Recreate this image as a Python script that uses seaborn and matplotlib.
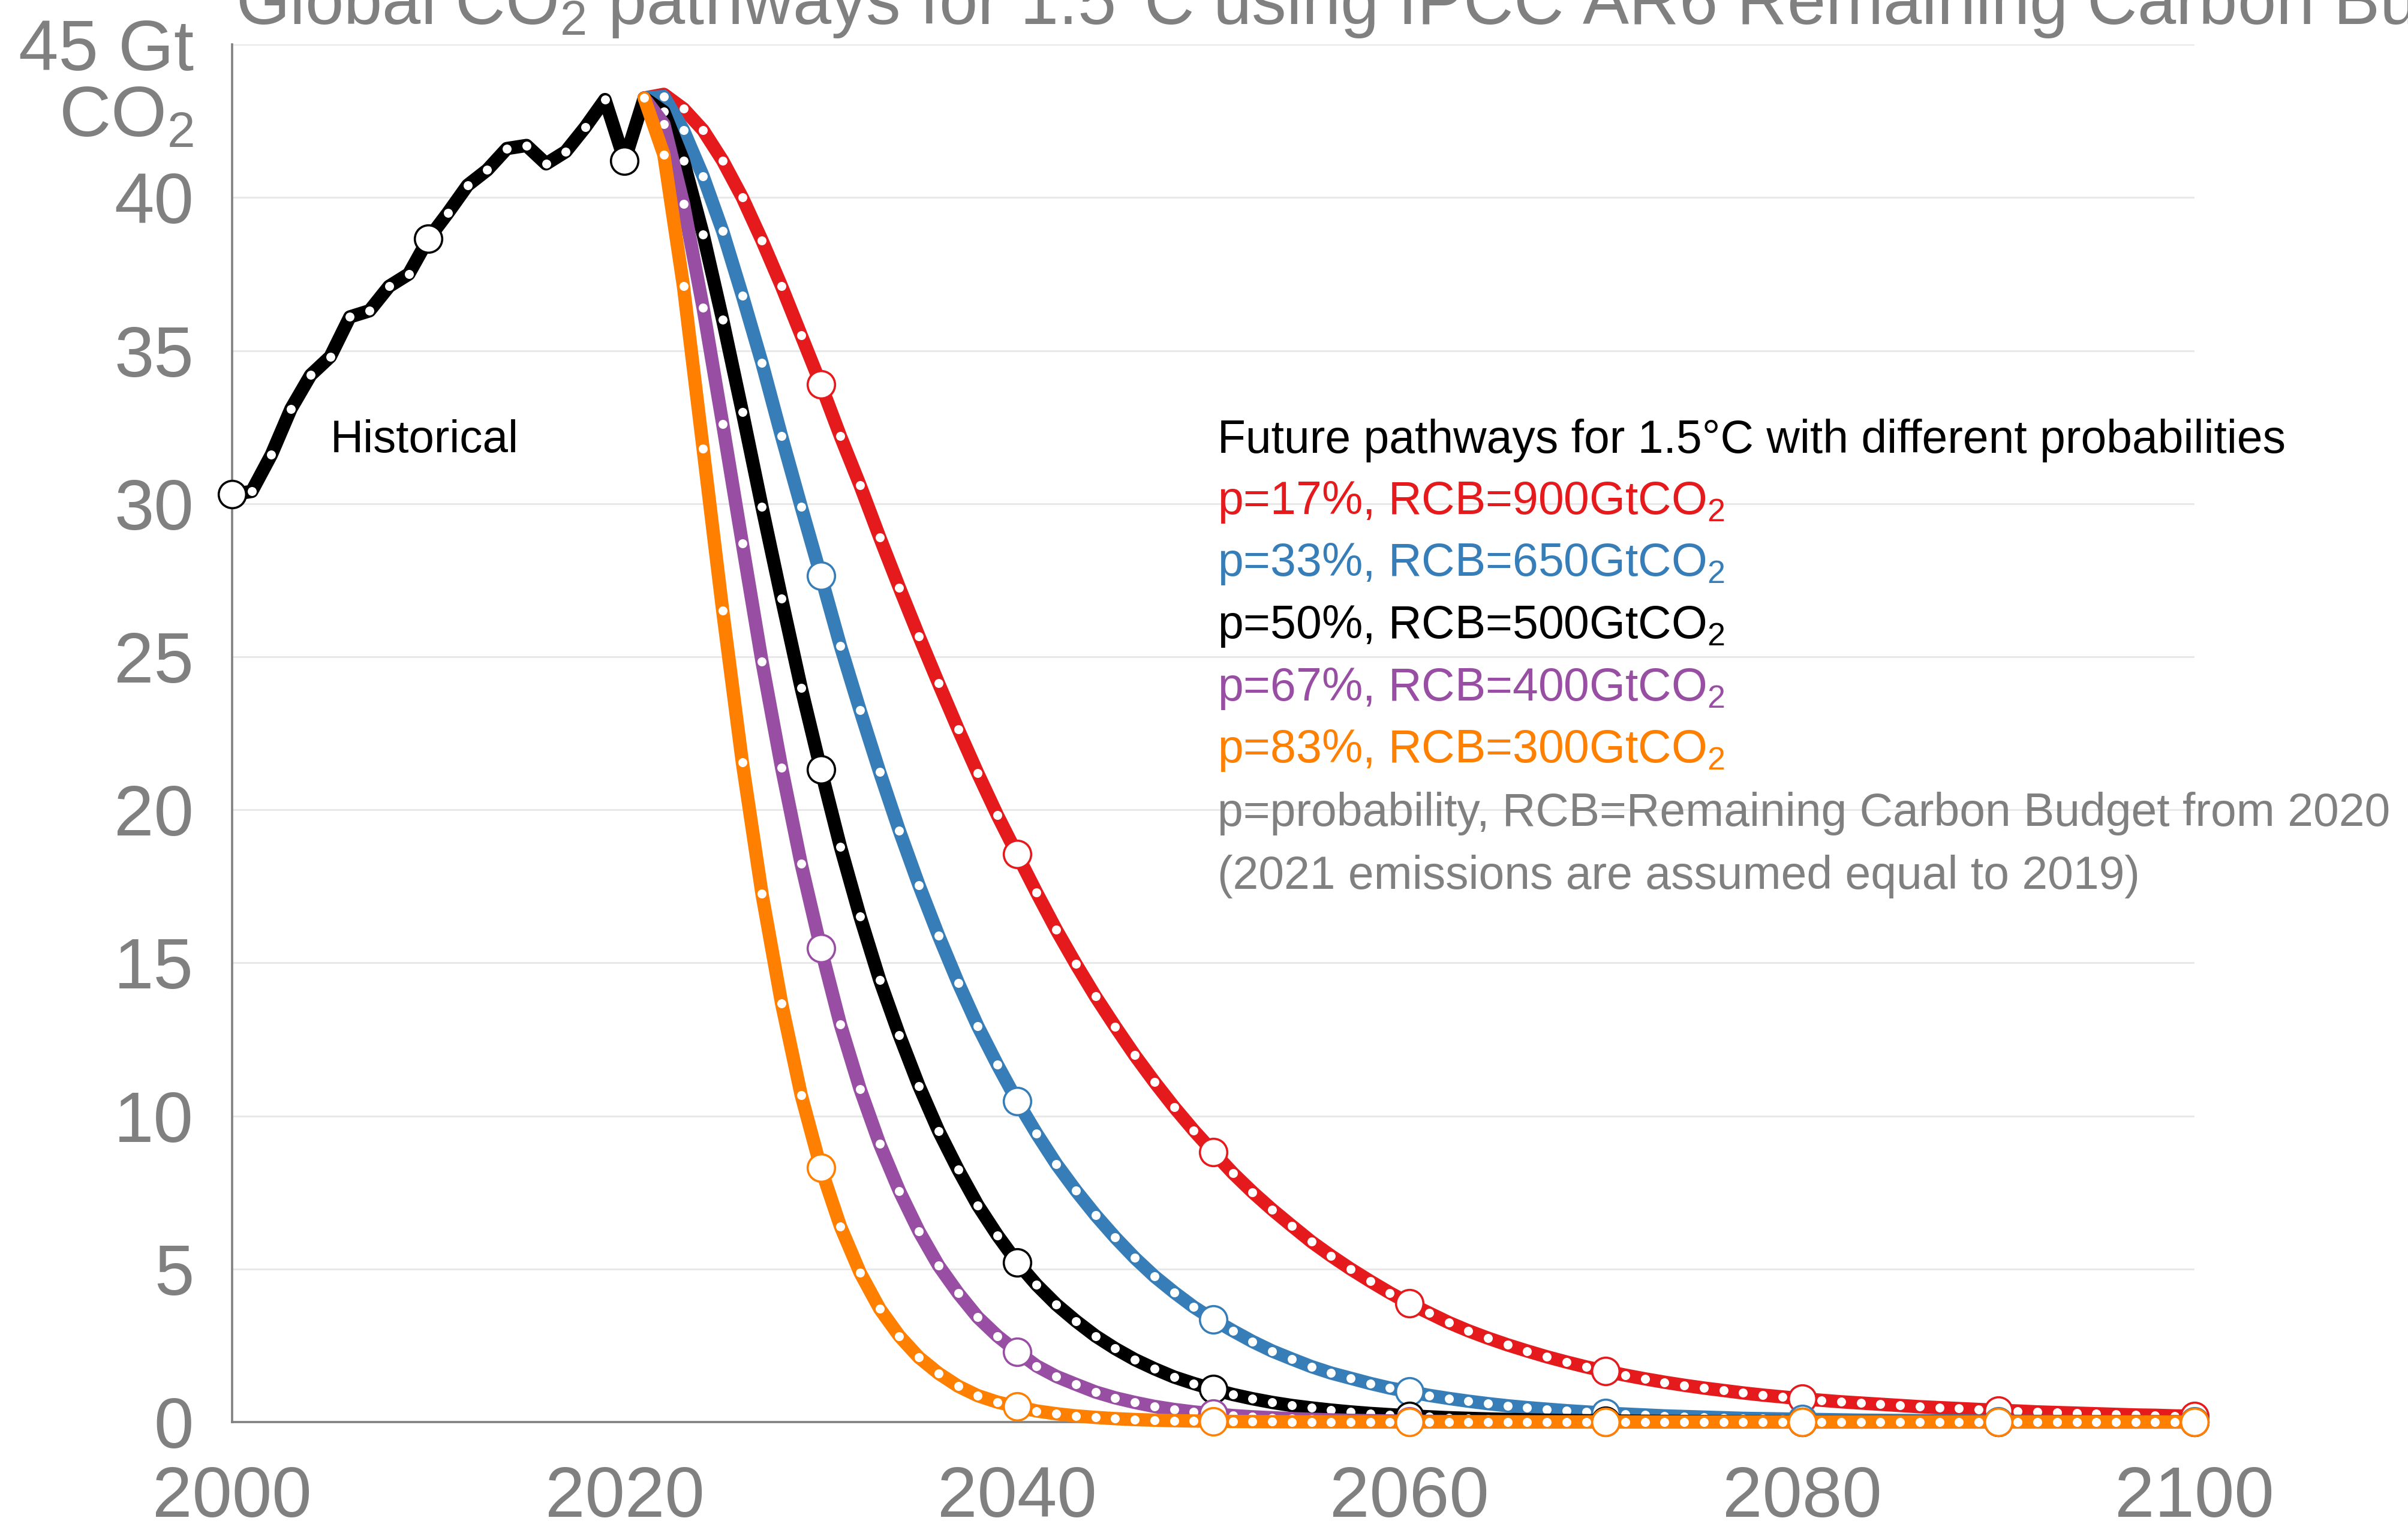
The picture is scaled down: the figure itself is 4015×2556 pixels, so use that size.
import numpy as np
import pandas as pd
import matplotlib
matplotlib.use("Agg")
import matplotlib.pyplot as plt
from matplotlib import transforms
import seaborn as sns

# historical emissions, Gt CO2 (2021 assumed equal to 2019)
hist_years = np.arange(2000, 2022)
hist_co2 = [30.3, 30.4, 31.6, 33.1, 34.2, 34.8, 36.1, 36.3, 37.1, 37.5,
            38.65, 39.5, 40.4, 40.9, 41.6, 41.7, 41.1, 41.5, 42.3, 43.2,
            41.2, 43.25]

# future pathways 2021-2100
path_years = np.arange(2021, 2101)
p17 = [43.25, 43.37, 42.9, 42.2, 41.2, 40.0, 38.6, 37.1, 35.5, 33.9,
       32.2, 30.6, 28.9, 27.26, 25.67, 24.13, 22.63, 21.19, 19.82, 18.55,
       17.29, 16.08, 14.96, 13.9, 12.92, 11.98, 11.11, 10.29, 9.53, 8.82,
       8.13, 7.51, 6.94, 6.41, 5.89, 5.43, 5.0, 4.6, 4.22, 3.87,
       3.56, 3.25, 2.98, 2.74, 2.52, 2.32, 2.13, 1.96, 1.8, 1.66,
       1.53, 1.41, 1.3, 1.2, 1.11, 1.03, 0.95, 0.88, 0.82, 0.76,
       0.71, 0.66, 0.62, 0.58, 0.54, 0.5, 0.47, 0.44, 0.41, 0.38,
       0.36, 0.33, 0.31, 0.29, 0.27, 0.25, 0.23, 0.22, 0.2, 0.19]
p33 = [43.25, 43.3, 42.2, 40.7, 38.9, 36.8, 34.6, 32.2, 29.9, 27.65,
       25.35, 23.25, 21.23, 19.32, 17.54, 15.89, 14.35, 12.93, 11.67, 10.49,
       9.42, 8.43, 7.56, 6.76, 6.03, 5.36, 4.76, 4.24, 3.76, 3.35,
       2.98, 2.63, 2.32, 2.06, 1.81, 1.6, 1.43, 1.26, 1.11, 0.99,
       0.87, 0.77, 0.68, 0.6, 0.53, 0.47, 0.42, 0.37, 0.33, 0.29,
       0.26, 0.23, 0.2, 0.18, 0.16, 0.14, 0.12, 0.11, 0.1, 0.09,
       0.08, 0.07, 0.06, 0.055, 0.05, 0.045, 0.04, 0.035, 0.03, 0.027,
       0.024, 0.021, 0.019, 0.017, 0.015, 0.013, 0.012, 0.011, 0.01, 0.009]
p50 = [43.25, 42.8, 41.2, 38.8, 36.0, 33.0, 29.9, 26.9, 23.98, 21.32,
       18.79, 16.51, 14.44, 12.64, 10.98, 9.51, 8.24, 7.08, 6.1, 5.22,
       4.48, 3.84, 3.3, 2.81, 2.4, 2.04, 1.74, 1.47, 1.26, 1.07,
       0.9, 0.76, 0.64, 0.54, 0.46, 0.39, 0.33, 0.28, 0.24, 0.2,
       0.17, 0.14, 0.12, 0.1, 0.085, 0.07, 0.06, 0.05, 0.043, 0.036,
       0.03, 0.025, 0.021, 0.018, 0.015, 0.012, 0.01, 0.009, 0.007, 0.006,
       0.005, 0.004, 0.004, 0.003, 0.003, 0.002, 0.002, 0.002, 0.001, 0.001,
       0.001, 0.001, 0.001, 0.001, 0.0, 0.0, 0.0, 0.0, 0.0, 0.0]
p67 = [43.25, 42.4, 39.8, 36.4, 32.6, 28.7, 24.85, 21.38, 18.23, 15.48,
       12.98, 10.88, 9.08, 7.55, 6.23, 5.11, 4.21, 3.42, 2.81, 2.3,
       1.83, 1.49, 1.23, 0.98, 0.79, 0.64, 0.51, 0.41, 0.33, 0.27,
       0.21, 0.17, 0.14, 0.11, 0.09, 0.07, 0.055, 0.045, 0.035, 0.028,
       0.022, 0.018, 0.014, 0.011, 0.009, 0.007, 0.006, 0.005, 0.004, 0.003,
       0.002, 0.002, 0.002, 0.001, 0.001, 0.001, 0.001, 0.001, 0.0, 0.0,
       0.0, 0.0, 0.0, 0.0, 0.0, 0.0, 0.0, 0.0, 0.0, 0.0,
       0.0, 0.0, 0.0, 0.0, 0.0, 0.0, 0.0, 0.0, 0.0, 0.0]
p83 = [43.25, 41.4, 37.1, 31.8, 26.5, 21.55, 17.26, 13.68, 10.68, 8.3,
       6.39, 4.88, 3.7, 2.81, 2.11, 1.59, 1.17, 0.86, 0.65, 0.5,
       0.36, 0.27, 0.2, 0.15, 0.11, 0.08, 0.06, 0.045, 0.033, 0.025,
       0.018, 0.013, 0.01, 0.007, 0.005, 0.004, 0.003, 0.002, 0.002, 0.001,
       0.001, 0.001, 0.001, 0.0, 0.0, 0.0, 0.0, 0.0, 0.0, 0.0,
       0.0, 0.0, 0.0, 0.0, 0.0, 0.0, 0.0, 0.0, 0.0, 0.0,
       0.0, 0.0, 0.0, 0.0, 0.0, 0.0, 0.0, 0.0, 0.0, 0.0,
       0.0, 0.0, 0.0, 0.0, 0.0, 0.0, 0.0, 0.0, 0.0, 0.0]

path_labels = ["p=17%, RCB=900GtCO$_2$", "p=33%, RCB=650GtCO$_2$",
               "p=50%, RCB=500GtCO$_2$", "p=67%, RCB=400GtCO$_2$",
               "p=83%, RCB=300GtCO$_2$"]
path_colors = ["#e41a1c", "#377eb8", "#000000", "#984ea3", "#ff7f00"]
notes = ["p=probability, RCB=Remaining Carbon Budget from 2020",
         "(2021 emissions are assumed equal to 2019)"]

GRAY = "#808080"
sns.set_theme(style="white")
plt.rcParams["font.family"] = ["Liberation Sans", "DejaVu Sans"]
plt.rcParams["mathtext.fontset"] = "custom"
plt.rcParams["mathtext.rm"] = "Liberation Sans"
plt.rcParams["mathtext.it"] = "Liberation Sans:italic"
plt.rcParams["mathtext.bf"] = "Liberation Sans:bold"

fig, ax = plt.subplots(figsize=(20.075, 12.78), dpi=200)
fig.subplots_adjust(left=0.0964, right=0.9113, bottom=0.0724, top=0.971)

paths = pd.DataFrame({"year": np.tile(path_years, 5),
                      "co2": p17 + p33 + p50 + p67 + p83,
                      "label": np.repeat(path_labels, len(path_years))})


def draw(x, y, color, z):
    sns.lineplot(x=x, y=y, color=color, linewidth=8, marker="o",
                 markersize=5.4, markerfacecolor="white", markeredgewidth=0,
                 solid_joinstyle="round", ax=ax, zorder=z, clip_on=False)
    x = np.asarray(x)
    y = np.asarray(y)
    dec = x % 10 == 0
    sns.scatterplot(x=x[dec], y=y[dec], color="white", edgecolor=color,
                    s=270, linewidth=1.3, ax=ax, zorder=z + 0.5, clip_on=False)


draw(hist_years, hist_co2, "black", 3)
for i, (lab, col) in enumerate(zip(path_labels, path_colors)):
    sub = paths[paths["label"] == lab]
    draw(sub["year"].values, sub["co2"].values, col, 4 + i)

ax.set_xlim(2000, 2100)
ax.set_ylim(0, 45)
ax.set_xticks(range(2000, 2101, 20))
ax.set_yticks(range(0, 46, 5))
ax.set_yticklabels([str(v) for v in range(0, 41, 5)] + ["45 Gt"])
ax.tick_params(axis="both", direction="out", length=13, width=1.3,
               color=GRAY, labelcolor=GRAY, labelsize=43, pad=10)
ax.tick_params(axis="x", pad=13)
ax.set_xlabel("")
ax.set_ylabel("")
ax.yaxis.grid(True, color="#e8e8e8", linewidth=1.1)
ax.xaxis.grid(False)
for s in ["top", "right"]:
    ax.spines[s].set_visible(False)
for s in ["left", "bottom"]:
    ax.spines[s].set_color(GRAY)
    ax.spines[s].set_linewidth(1.3)

trans = transforms.blended_transform_factory(ax.transAxes, ax.transData)
ax.annotate("CO$_2$", xy=(0, 42.6), xycoords=trans, xytext=(-23, 0),
            textcoords="offset points", ha="right", va="center",
            fontsize=43, color=GRAY)

ax.text(2005, 32.06, "Historical", fontsize=27.5, color="black",
        ha="left", va="center")
ax.text(2050.2, 32.06, "Future pathways for 1.5°C with different probabilities",
        fontsize=27.7, color="black", ha="left", va="center")
for k, (lab, col) in enumerate(zip(path_labels, path_colors)):
    ax.text(2050.2, 30.05 - 2.03 * k, lab, fontsize=27.7, color=col,
            ha="left", va="center")
for k, note in enumerate(notes):
    ax.text(2050.2, 19.87 - 2.06 * k, note, fontsize=27.7, color=GRAY,
            ha="left", va="center")

fig.text(393 / 4015, 1 - 40 / 2556,
         "Global CO$_2$ pathways for 1.5°C using IPCC AR6 Remaining Carbon Budgets",
         fontsize=41.6, color=GRAY, ha="left", va="baseline")

fig.savefig("out.png", dpi=200)
